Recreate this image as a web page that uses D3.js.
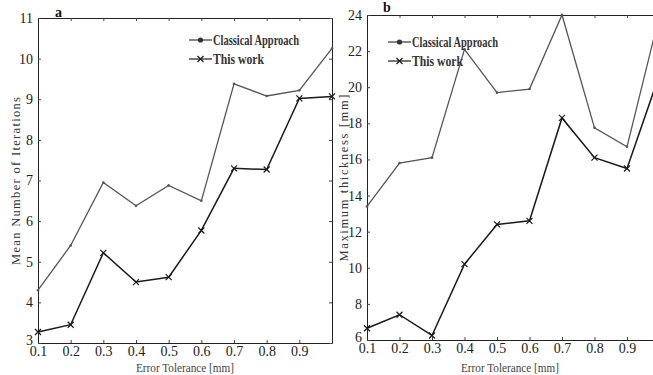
<!DOCTYPE html>
<html><head><meta charset="utf-8">
<script src="https://cdn.jsdelivr.net/npm/d3@7/dist/d3.min.js"></script>
<style>body{margin:0;background:#fff}svg{display:block}</style>
</head><body>
<svg id="c" width="653" height="375"></svg>
<script>
const tolerance = [0.1,0.2,0.3,0.4,0.5,0.6,0.7,0.8,0.9,1.0];
const xTicks = [0.1,0.2,0.3,0.4,0.5,0.6,0.7,0.8,0.9];
// Panel a: mean number of iterations
const itersClassical = [4.3,5.4,6.95,6.38,6.88,6.5,9.38,9.08,9.22,10.25];
const itersThisWork = [3.27,3.45,5.22,4.5,4.62,5.77,7.3,7.27,9.02,9.07];
const itersTicks = [3,4,5,6,7,8,9,10,11];
// Panel b: maximum thickness
const thickClassical = [13.4,15.8,16.1,22.1,19.7,19.9,24.0,17.75,16.7,24.0];
const thickThisWork = [6.65,7.4,6.25,10.2,12.4,12.6,18.3,16.1,15.5,20.7];
const thickTicks = [6,8,10,12,14,16,18,20,22,24];
const seriesNames = ["Classical Approach","This work"];

const svg = d3.select("#c");
const FONT = "'Liberation Serif','Times New Roman',serif";

function panel(cfg){
  const x = d3.scaleLinear().domain([0.1,1.0]).range([cfg.x0,cfg.x1]);
  const y = d3.scaleLinear().domain(cfg.ydom).range([cfg.y1,cfg.y0]);
  const g = svg.append("g");
  const ax = (axis, tr) => {
    const a = g.append("g").attr("transform",tr).call(axis);
    a.select(".domain").attr("stroke","#222").attr("stroke-width",1);
    a.selectAll(".tick line").attr("stroke","#444");
    a.selectAll("text").attr("font-family",FONT).attr("font-size",14).attr("fill","#222");
    return a;
  };
  ax(d3.axisBottom(x).tickValues(xTicks).tickSize(-3).tickPadding(3).tickFormat(d3.format(".1f")).tickSizeOuter(0), `translate(0,${cfg.y1})`);
  ax(d3.axisTop(x).tickValues(xTicks).tickSize(-3).tickFormat("").tickSizeOuter(0), `translate(0,${cfg.y0})`);
  const yl = ax(d3.axisLeft(y).tickValues(cfg.yticks).tickSize(-3).tickPadding(5).tickFormat(d3.format("d")).tickSizeOuter(0), `translate(${cfg.x0},0)`);
  yl.selectAll(".tick text").filter(d=>d===cfg.ydom[0]).attr("dy","0.1em");
  ax(d3.axisRight(y).tickValues(cfg.yticks).tickSize(-3).tickFormat("").tickSizeOuter(0), `translate(${cfg.x1},0)`);

  const line = d3.line().x((d,i)=>x(tolerance[i])).y(d=>y(d));
  g.append("path").datum(cfg.classical).attr("d",line).attr("fill","none").attr("stroke","#555").attr("stroke-width",1.3);
  g.selectAll(".dot").data(cfg.classical).join("circle").attr("cx",(d,i)=>x(tolerance[i])).attr("cy",d=>y(d)).attr("r",1.3).attr("fill","#555");
  g.append("path").datum(cfg.thisWork).attr("d",line).attr("fill","none").attr("stroke","#1a1a1a").attr("stroke-width",1.5);
  g.selectAll(".xm").data(cfg.thisWork).join("path")
    .attr("d",(d,i)=>{const cx=x(tolerance[i]), cy=y(d), s=3; return `M${cx-s},${cy-s}L${cx+s},${cy+s}M${cx-s},${cy+s}L${cx+s},${cy-s}`;})
    .attr("stroke","#1a1a1a").attr("stroke-width",1.2);

  g.append("text").attr("x",cfg.xtitleX).attr("y",372).attr("text-anchor","middle")
    .attr("font-family",FONT).attr("font-size",12).attr("fill","#444")
    .attr("textLength",98).attr("lengthAdjust","spacingAndGlyphs").text("Error Tolerance [mm]");
  g.append("text").attr("transform",`translate(${cfg.ytitleX},${cfg.ytitleY}) rotate(-90)`).attr("text-anchor","middle")
    .attr("font-family",FONT).attr("font-size",12.5).attr("fill","#333")
    .attr("textLength",cfg.ytitleLen).attr("lengthAdjust","spacing").text(cfg.ytitle);
  g.append("text").attr("x",cfg.labX).attr("y",cfg.labY).attr("font-family",FONT).attr("font-weight","bold")
    .attr("font-size",14).attr("fill","#111").text(cfg.label);

  const L = g.append("g");
  const rows = [{n:seriesNames[0],y:cfg.legY},{n:seriesNames[1],y:cfg.legY+19}];
  rows.forEach((r,i)=>{
    L.append("line").attr("x1",cfg.legX).attr("x2",cfg.legX+23).attr("y1",r.y).attr("y2",r.y)
      .attr("stroke",i?"#1a1a1a":"#333").attr("stroke-width",1.2);
    const mx = cfg.legX+11.5;
    if(i===0) L.append("circle").attr("cx",mx).attr("cy",r.y).attr("r",2.6).attr("fill","#333");
    else L.append("path").attr("d",`M${mx-3},${r.y-3}L${mx+3},${r.y+3}M${mx-3},${r.y+3}L${mx+3},${r.y-3}`).attr("stroke","#1a1a1a").attr("stroke-width",1.2);
    L.append("text").attr("x",cfg.legX+24).attr("y",r.y+4.5).attr("font-family",FONT).attr("font-weight","bold")
      .attr("font-size",14.5).attr("fill","#333").attr("textLength",i?51:86).attr("lengthAdjust","spacingAndGlyphs").text(r.n);
  });
}

panel({x0:38,x1:332,y0:18,y1:343,ydom:[3,11],yticks:itersTicks,classical:itersClassical,thisWork:itersThisWork,
  xtitleX:185,ytitle:"Mean Number of Iterations",ytitleX:20,ytitleY:181,ytitleLen:168,label:"a",labX:55,labY:17,
  legX:189,legY:40});
panel({x0:367,x1:659.5,y0:15,y1:340,ydom:[6,24],yticks:thickTicks,classical:thickClassical,thisWork:thickThisWork,
  xtitleX:510,ytitle:"Maximum thickness [mm]",ytitleX:348,ytitleY:178,ytitleLen:167,label:"b",labX:383,labY:12,
  legX:388,legY:42});
</script>
</body></html>
